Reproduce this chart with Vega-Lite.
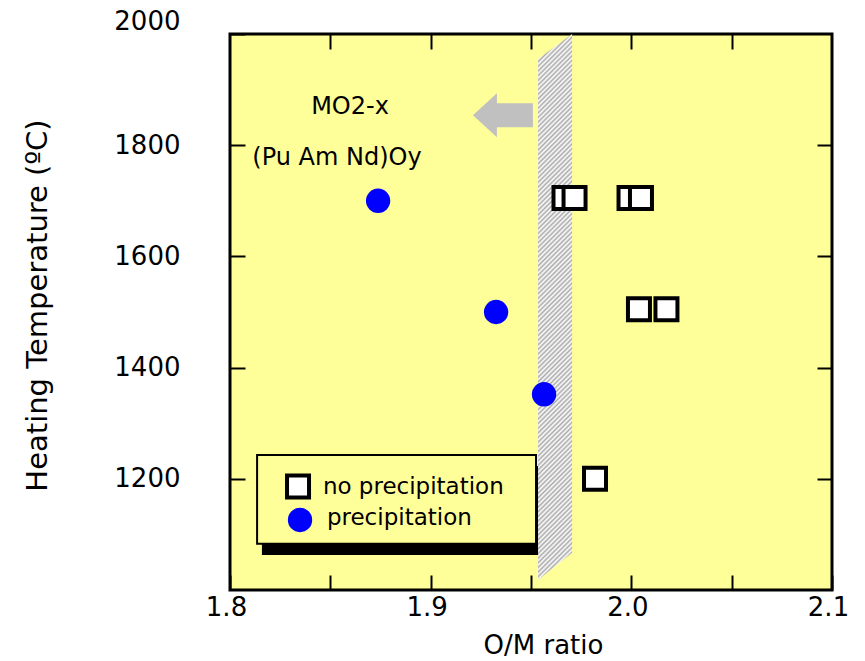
{
  "$schema": "https://vega.github.io/schema/vega-lite/v6.json",
  "width": 602,
  "height": 556,
  "autosize": {"type": "none"},
  "padding": {"left": 230, "top": 34, "right": 33, "bottom": 71},
  "background": "white",
  "config": {
    "view": {"fill": "#FFFF99", "stroke": "black", "strokeWidth": 3},
    "axis": {
      "labelFont": "DejaVu Sans", "titleFont": "DejaVu Sans",
      "labelColor": "black", "titleColor": "black", "tickColor": "black",
      "labelFontSize": 26, "titleFontSize": 26, "titleFontWeight": "normal",
      "domain": false, "grid": false, "tickWidth": 2, "tickSize": -15, "labelFlush": false
    }
  },
  "datasets": {
    "samples": [
      {"x": 1.8738, "y": 1700, "type": "precipitation"},
      {"x": 1.9326, "y": 1500, "type": "precipitation"},
      {"x": 1.9565, "y": 1352, "type": "precipitation"},
      {"x": 1.9667, "y": 1705, "type": "no precipitation"},
      {"x": 1.9717, "y": 1705, "type": "no precipitation"},
      {"x": 1.9991, "y": 1705, "type": "no precipitation"},
      {"x": 2.0048, "y": 1705, "type": "no precipitation"},
      {"x": 2.0038, "y": 1505, "type": "no precipitation"},
      {"x": 2.0175, "y": 1505, "type": "no precipitation"},
      {"x": 1.9819, "y": 1200, "type": "no precipitation"}
    ],
    "band": [
      {"x": 1.9535, "y": 1018, "y2": 1955},
      {"x": 1.9705, "y": 1067, "y2": 2000}
    ],
    "labels": [
      {"x": 1.8598, "y": 1869, "label": "MO2-x"},
      {"x": 1.8533, "y": 1777, "label": "(Pu Am Nd)Oy"}
    ],
    "arrow": [{"x": 1.936, "y": 1854}],
    "shadow": [{"x": 1.8159, "x2": 1.955, "y": 1063, "y2": 1223}],
    "frame": [{"x": 1.8135, "x2": 1.9525, "y": 1083, "y2": 1243}],
    "legendItems": [
      {"x": 1.8339, "y": 1186, "tx": 1.8463, "ty": 1186, "type": "no precipitation", "label": "no precipitation"},
      {"x": 1.8349, "y": 1126, "tx": 1.8483, "ty": 1130, "type": "precipitation", "label": "precipitation"}
    ]
  },
  "resolve": {"axis": {"x": "independent", "y": "independent"}},
  "layer": [
    {
      "data": {"name": "shadow"},
      "mark": {"type": "rect", "color": "black"},
      "encoding": {
        "x": {"field": "x", "type": "quantitative", "scale": {"domain": [1.8, 2.1], "nice": false, "zero": false}, "axis": null},
        "x2": {"field": "x2"},
        "y": {"field": "y", "type": "quantitative", "scale": {"domain": [1000, 2000], "nice": false, "zero": false}, "axis": null},
        "y2": {"field": "y2"}
      }
    },
    {
      "data": {"name": "frame"},
      "mark": {"type": "rect", "fill": "#FFFF99", "stroke": "black", "strokeWidth": 2},
      "encoding": {
        "x": {"field": "x", "type": "quantitative", "axis": null},
        "x2": {"field": "x2"},
        "y": {"field": "y", "type": "quantitative", "axis": null},
        "y2": {"field": "y2"}
      }
    },
    {
      "data": {"name": "band"},
      "mark": {"type": "area", "opacity": 1, "fill": {"gradient": "linear", "x1": 0, "y1": 0, "x2": 0.0659, "y2": 1.058, "stops": [
        {"offset": 0, "color": "#aaa"}, {"offset": 0.004, "color": "#fff"}, {"offset": 0.008, "color": "#aaa"}, {"offset": 0.012, "color": "#fff"}, {"offset": 0.016, "color": "#aaa"}, {"offset": 0.02, "color": "#fff"}, {"offset": 0.024, "color": "#aaa"}, {"offset": 0.028, "color": "#fff"}, {"offset": 0.032, "color": "#aaa"}, {"offset": 0.036, "color": "#fff"},
        {"offset": 0.04, "color": "#aaa"}, {"offset": 0.044, "color": "#fff"}, {"offset": 0.048, "color": "#aaa"}, {"offset": 0.052, "color": "#fff"}, {"offset": 0.056, "color": "#aaa"}, {"offset": 0.06, "color": "#fff"}, {"offset": 0.064, "color": "#aaa"}, {"offset": 0.068, "color": "#fff"}, {"offset": 0.072, "color": "#aaa"}, {"offset": 0.076, "color": "#fff"},
        {"offset": 0.08, "color": "#aaa"}, {"offset": 0.084, "color": "#fff"}, {"offset": 0.088, "color": "#aaa"}, {"offset": 0.092, "color": "#fff"}, {"offset": 0.096, "color": "#aaa"}, {"offset": 0.1, "color": "#fff"}, {"offset": 0.104, "color": "#aaa"}, {"offset": 0.108, "color": "#fff"}, {"offset": 0.112, "color": "#aaa"}, {"offset": 0.116, "color": "#fff"},
        {"offset": 0.12, "color": "#aaa"}, {"offset": 0.124, "color": "#fff"}, {"offset": 0.128, "color": "#aaa"}, {"offset": 0.132, "color": "#fff"}, {"offset": 0.136, "color": "#aaa"}, {"offset": 0.14, "color": "#fff"}, {"offset": 0.144, "color": "#aaa"}, {"offset": 0.148, "color": "#fff"}, {"offset": 0.152, "color": "#aaa"}, {"offset": 0.156, "color": "#fff"},
        {"offset": 0.16, "color": "#aaa"}, {"offset": 0.164, "color": "#fff"}, {"offset": 0.168, "color": "#aaa"}, {"offset": 0.172, "color": "#fff"}, {"offset": 0.176, "color": "#aaa"}, {"offset": 0.18, "color": "#fff"}, {"offset": 0.184, "color": "#aaa"}, {"offset": 0.188, "color": "#fff"}, {"offset": 0.192, "color": "#aaa"}, {"offset": 0.196, "color": "#fff"},
        {"offset": 0.2, "color": "#aaa"}, {"offset": 0.204, "color": "#fff"}, {"offset": 0.208, "color": "#aaa"}, {"offset": 0.212, "color": "#fff"}, {"offset": 0.216, "color": "#aaa"}, {"offset": 0.22, "color": "#fff"}, {"offset": 0.224, "color": "#aaa"}, {"offset": 0.228, "color": "#fff"}, {"offset": 0.232, "color": "#aaa"}, {"offset": 0.236, "color": "#fff"},
        {"offset": 0.24, "color": "#aaa"}, {"offset": 0.244, "color": "#fff"}, {"offset": 0.248, "color": "#aaa"}, {"offset": 0.252, "color": "#fff"}, {"offset": 0.256, "color": "#aaa"}, {"offset": 0.26, "color": "#fff"}, {"offset": 0.264, "color": "#aaa"}, {"offset": 0.268, "color": "#fff"}, {"offset": 0.272, "color": "#aaa"}, {"offset": 0.276, "color": "#fff"},
        {"offset": 0.28, "color": "#aaa"}, {"offset": 0.284, "color": "#fff"}, {"offset": 0.288, "color": "#aaa"}, {"offset": 0.292, "color": "#fff"}, {"offset": 0.296, "color": "#aaa"}, {"offset": 0.3, "color": "#fff"}, {"offset": 0.304, "color": "#aaa"}, {"offset": 0.308, "color": "#fff"}, {"offset": 0.312, "color": "#aaa"}, {"offset": 0.316, "color": "#fff"},
        {"offset": 0.32, "color": "#aaa"}, {"offset": 0.324, "color": "#fff"}, {"offset": 0.328, "color": "#aaa"}, {"offset": 0.332, "color": "#fff"}, {"offset": 0.336, "color": "#aaa"}, {"offset": 0.34, "color": "#fff"}, {"offset": 0.344, "color": "#aaa"}, {"offset": 0.348, "color": "#fff"}, {"offset": 0.352, "color": "#aaa"}, {"offset": 0.356, "color": "#fff"},
        {"offset": 0.36, "color": "#aaa"}, {"offset": 0.364, "color": "#fff"}, {"offset": 0.368, "color": "#aaa"}, {"offset": 0.372, "color": "#fff"}, {"offset": 0.376, "color": "#aaa"}, {"offset": 0.38, "color": "#fff"}, {"offset": 0.384, "color": "#aaa"}, {"offset": 0.388, "color": "#fff"}, {"offset": 0.392, "color": "#aaa"}, {"offset": 0.396, "color": "#fff"},
        {"offset": 0.4, "color": "#aaa"}, {"offset": 0.404, "color": "#fff"}, {"offset": 0.408, "color": "#aaa"}, {"offset": 0.412, "color": "#fff"}, {"offset": 0.416, "color": "#aaa"}, {"offset": 0.42, "color": "#fff"}, {"offset": 0.424, "color": "#aaa"}, {"offset": 0.428, "color": "#fff"}, {"offset": 0.432, "color": "#aaa"}, {"offset": 0.436, "color": "#fff"},
        {"offset": 0.44, "color": "#aaa"}, {"offset": 0.444, "color": "#fff"}, {"offset": 0.448, "color": "#aaa"}, {"offset": 0.452, "color": "#fff"}, {"offset": 0.456, "color": "#aaa"}, {"offset": 0.46, "color": "#fff"}, {"offset": 0.464, "color": "#aaa"}, {"offset": 0.468, "color": "#fff"}, {"offset": 0.472, "color": "#aaa"}, {"offset": 0.476, "color": "#fff"},
        {"offset": 0.48, "color": "#aaa"}, {"offset": 0.484, "color": "#fff"}, {"offset": 0.488, "color": "#aaa"}, {"offset": 0.492, "color": "#fff"}, {"offset": 0.496, "color": "#aaa"}, {"offset": 0.5, "color": "#fff"}, {"offset": 0.504, "color": "#aaa"}, {"offset": 0.508, "color": "#fff"}, {"offset": 0.512, "color": "#aaa"}, {"offset": 0.516, "color": "#fff"},
        {"offset": 0.52, "color": "#aaa"}, {"offset": 0.524, "color": "#fff"}, {"offset": 0.528, "color": "#aaa"}, {"offset": 0.532, "color": "#fff"}, {"offset": 0.536, "color": "#aaa"}, {"offset": 0.54, "color": "#fff"}, {"offset": 0.544, "color": "#aaa"}, {"offset": 0.548, "color": "#fff"}, {"offset": 0.552, "color": "#aaa"}, {"offset": 0.556, "color": "#fff"},
        {"offset": 0.56, "color": "#aaa"}, {"offset": 0.564, "color": "#fff"}, {"offset": 0.568, "color": "#aaa"}, {"offset": 0.572, "color": "#fff"}, {"offset": 0.576, "color": "#aaa"}, {"offset": 0.58, "color": "#fff"}, {"offset": 0.584, "color": "#aaa"}, {"offset": 0.588, "color": "#fff"}, {"offset": 0.592, "color": "#aaa"}, {"offset": 0.596, "color": "#fff"},
        {"offset": 0.6, "color": "#aaa"}, {"offset": 0.604, "color": "#fff"}, {"offset": 0.608, "color": "#aaa"}, {"offset": 0.612, "color": "#fff"}, {"offset": 0.616, "color": "#aaa"}, {"offset": 0.62, "color": "#fff"}, {"offset": 0.624, "color": "#aaa"}, {"offset": 0.628, "color": "#fff"}, {"offset": 0.632, "color": "#aaa"}, {"offset": 0.636, "color": "#fff"},
        {"offset": 0.64, "color": "#aaa"}, {"offset": 0.644, "color": "#fff"}, {"offset": 0.648, "color": "#aaa"}, {"offset": 0.652, "color": "#fff"}, {"offset": 0.656, "color": "#aaa"}, {"offset": 0.66, "color": "#fff"}, {"offset": 0.664, "color": "#aaa"}, {"offset": 0.668, "color": "#fff"}, {"offset": 0.672, "color": "#aaa"}, {"offset": 0.676, "color": "#fff"},
        {"offset": 0.68, "color": "#aaa"}, {"offset": 0.684, "color": "#fff"}, {"offset": 0.688, "color": "#aaa"}, {"offset": 0.692, "color": "#fff"}, {"offset": 0.696, "color": "#aaa"}, {"offset": 0.7, "color": "#fff"}, {"offset": 0.704, "color": "#aaa"}, {"offset": 0.708, "color": "#fff"}, {"offset": 0.712, "color": "#aaa"}, {"offset": 0.716, "color": "#fff"},
        {"offset": 0.72, "color": "#aaa"}, {"offset": 0.724, "color": "#fff"}, {"offset": 0.728, "color": "#aaa"}, {"offset": 0.732, "color": "#fff"}, {"offset": 0.736, "color": "#aaa"}, {"offset": 0.74, "color": "#fff"}, {"offset": 0.744, "color": "#aaa"}, {"offset": 0.748, "color": "#fff"}, {"offset": 0.752, "color": "#aaa"}, {"offset": 0.756, "color": "#fff"},
        {"offset": 0.76, "color": "#aaa"}, {"offset": 0.764, "color": "#fff"}, {"offset": 0.768, "color": "#aaa"}, {"offset": 0.772, "color": "#fff"}, {"offset": 0.776, "color": "#aaa"}, {"offset": 0.78, "color": "#fff"}, {"offset": 0.784, "color": "#aaa"}, {"offset": 0.788, "color": "#fff"}, {"offset": 0.792, "color": "#aaa"}, {"offset": 0.796, "color": "#fff"},
        {"offset": 0.8, "color": "#aaa"}, {"offset": 0.804, "color": "#fff"}, {"offset": 0.808, "color": "#aaa"}, {"offset": 0.812, "color": "#fff"}, {"offset": 0.816, "color": "#aaa"}, {"offset": 0.82, "color": "#fff"}, {"offset": 0.824, "color": "#aaa"}, {"offset": 0.828, "color": "#fff"}, {"offset": 0.832, "color": "#aaa"}, {"offset": 0.836, "color": "#fff"},
        {"offset": 0.84, "color": "#aaa"}, {"offset": 0.844, "color": "#fff"}, {"offset": 0.848, "color": "#aaa"}, {"offset": 0.852, "color": "#fff"}, {"offset": 0.856, "color": "#aaa"}, {"offset": 0.86, "color": "#fff"}, {"offset": 0.864, "color": "#aaa"}, {"offset": 0.868, "color": "#fff"}, {"offset": 0.872, "color": "#aaa"}, {"offset": 0.876, "color": "#fff"},
        {"offset": 0.88, "color": "#aaa"}, {"offset": 0.884, "color": "#fff"}, {"offset": 0.888, "color": "#aaa"}, {"offset": 0.892, "color": "#fff"}, {"offset": 0.896, "color": "#aaa"}, {"offset": 0.9, "color": "#fff"}, {"offset": 0.904, "color": "#aaa"}, {"offset": 0.908, "color": "#fff"}, {"offset": 0.912, "color": "#aaa"}, {"offset": 0.916, "color": "#fff"},
        {"offset": 0.92, "color": "#aaa"}, {"offset": 0.924, "color": "#fff"}, {"offset": 0.928, "color": "#aaa"}, {"offset": 0.932, "color": "#fff"}, {"offset": 0.936, "color": "#aaa"}, {"offset": 0.94, "color": "#fff"}, {"offset": 0.944, "color": "#aaa"}, {"offset": 0.948, "color": "#fff"}, {"offset": 0.952, "color": "#aaa"}, {"offset": 0.956, "color": "#fff"},
        {"offset": 0.96, "color": "#aaa"}, {"offset": 0.964, "color": "#fff"}, {"offset": 0.968, "color": "#aaa"}, {"offset": 0.972, "color": "#fff"}, {"offset": 0.976, "color": "#aaa"}, {"offset": 0.98, "color": "#fff"}, {"offset": 0.984, "color": "#aaa"}, {"offset": 0.988, "color": "#fff"}, {"offset": 0.992, "color": "#aaa"}, {"offset": 0.996, "color": "#fff"},
        {"offset": 1, "color": "#aaa"}
      ]}},
      "encoding": {
        "x": {"field": "x", "type": "quantitative", "axis": null},
        "y": {"field": "y", "type": "quantitative", "axis": null},
        "y2": {"field": "y2"}
      }
    },
    {
      "data": {"name": "arrow"},
      "mark": {"type": "point", "shape": "M-1,0L-0.2,-0.733L-0.2,-0.4L1,-0.4L1,0.4L-0.2,0.4L-0.2,0.733Z", "size": 3600, "filled": true, "color": "#c0c0c0", "opacity": 1},
      "encoding": {
        "x": {"field": "x", "type": "quantitative", "axis": {"orient": "top", "labels": false, "title": null, "values": [1.85, 1.9, 1.95, 2.0, 2.05]}},
        "y": {"field": "y", "type": "quantitative", "axis": {"orient": "right", "labels": false, "title": null, "values": [1200, 1400, 1600, 1800]}}
      }
    },
    {
      "data": {"name": "labels"},
      "mark": {"type": "text", "font": "DejaVu Sans", "fontSize": 24, "align": "center", "baseline": "middle", "color": "black"},
      "encoding": {
        "x": {"field": "x", "type": "quantitative", "axis": null},
        "y": {"field": "y", "type": "quantitative", "axis": null},
        "text": {"field": "label"}
      }
    },
    {
      "data": {"name": "legendItems"},
      "mark": {"type": "text", "font": "DejaVu Sans", "fontSize": 23, "align": "left", "baseline": "middle", "color": "black"},
      "encoding": {
        "x": {"field": "tx", "type": "quantitative", "axis": null},
        "y": {"field": "ty", "type": "quantitative", "axis": null},
        "text": {"field": "label"}
      }
    },
    {
      "data": {"name": "legendItems"},
      "mark": {"type": "point", "filled": true, "strokeWidth": 4, "opacity": 1},
      "encoding": {
        "x": {"field": "x", "type": "quantitative", "axis": null},
        "y": {"field": "y", "type": "quantitative", "axis": null},
        "shape": {"field": "type", "type": "nominal", "legend": null},
        "fill": {"field": "type", "type": "nominal", "legend": null},
        "stroke": {"field": "type", "type": "nominal", "legend": null},
        "size": {"field": "type", "type": "nominal", "legend": null}
      }
    },
    {
      "data": {"name": "samples"},
      "mark": {"type": "point", "filled": true, "strokeWidth": 4, "opacity": 1},
      "encoding": {
        "x": {
          "field": "x", "type": "quantitative",
          "axis": {
            "orient": "bottom", "title": "O/M ratio",
            "values": [1.8, 1.85, 1.9, 1.95, 2.0, 2.05, 2.1],
            "labelExpr": "abs(datum.value*10 - round(datum.value*10)) < 0.01 ? format(datum.value, '.1f') : ''",
            "labelPadding": 19, "labelOffset": -4,
            "titleX": 313, "titleY": 55, "titleBaseline": "middle"
          }
        },
        "y": {
          "field": "y", "type": "quantitative",
          "axis": {
            "orient": "left", "title": "Heating Temperature (ºC)", "format": "d",
            "values": [1200, 1400, 1600, 1800, 2000],
            "labelPadding": 65,
            "labelBaseline": {"condition": {"test": "datum.value == 2000", "value": "bottom"}, "value": "middle"},
            "titleX": -193, "titleY": 271, "titleBaseline": "middle", "titleFontSize": 29
          }
        },
        "shape": {"field": "type", "type": "nominal", "scale": {"domain": ["no precipitation", "precipitation"], "range": ["square", "circle"]}, "legend": null},
        "fill": {"field": "type", "type": "nominal", "scale": {"domain": ["no precipitation", "precipitation"], "range": ["white", "blue"]}, "legend": null},
        "stroke": {"field": "type", "type": "nominal", "scale": {"domain": ["no precipitation", "precipitation"], "range": ["black", "blue"]}, "legend": null},
        "size": {"field": "type", "type": "nominal", "legend": null, "scale": {"domain": ["no precipitation", "precipitation"], "range": [484, 415]}}
      }
    }
  ]
}
